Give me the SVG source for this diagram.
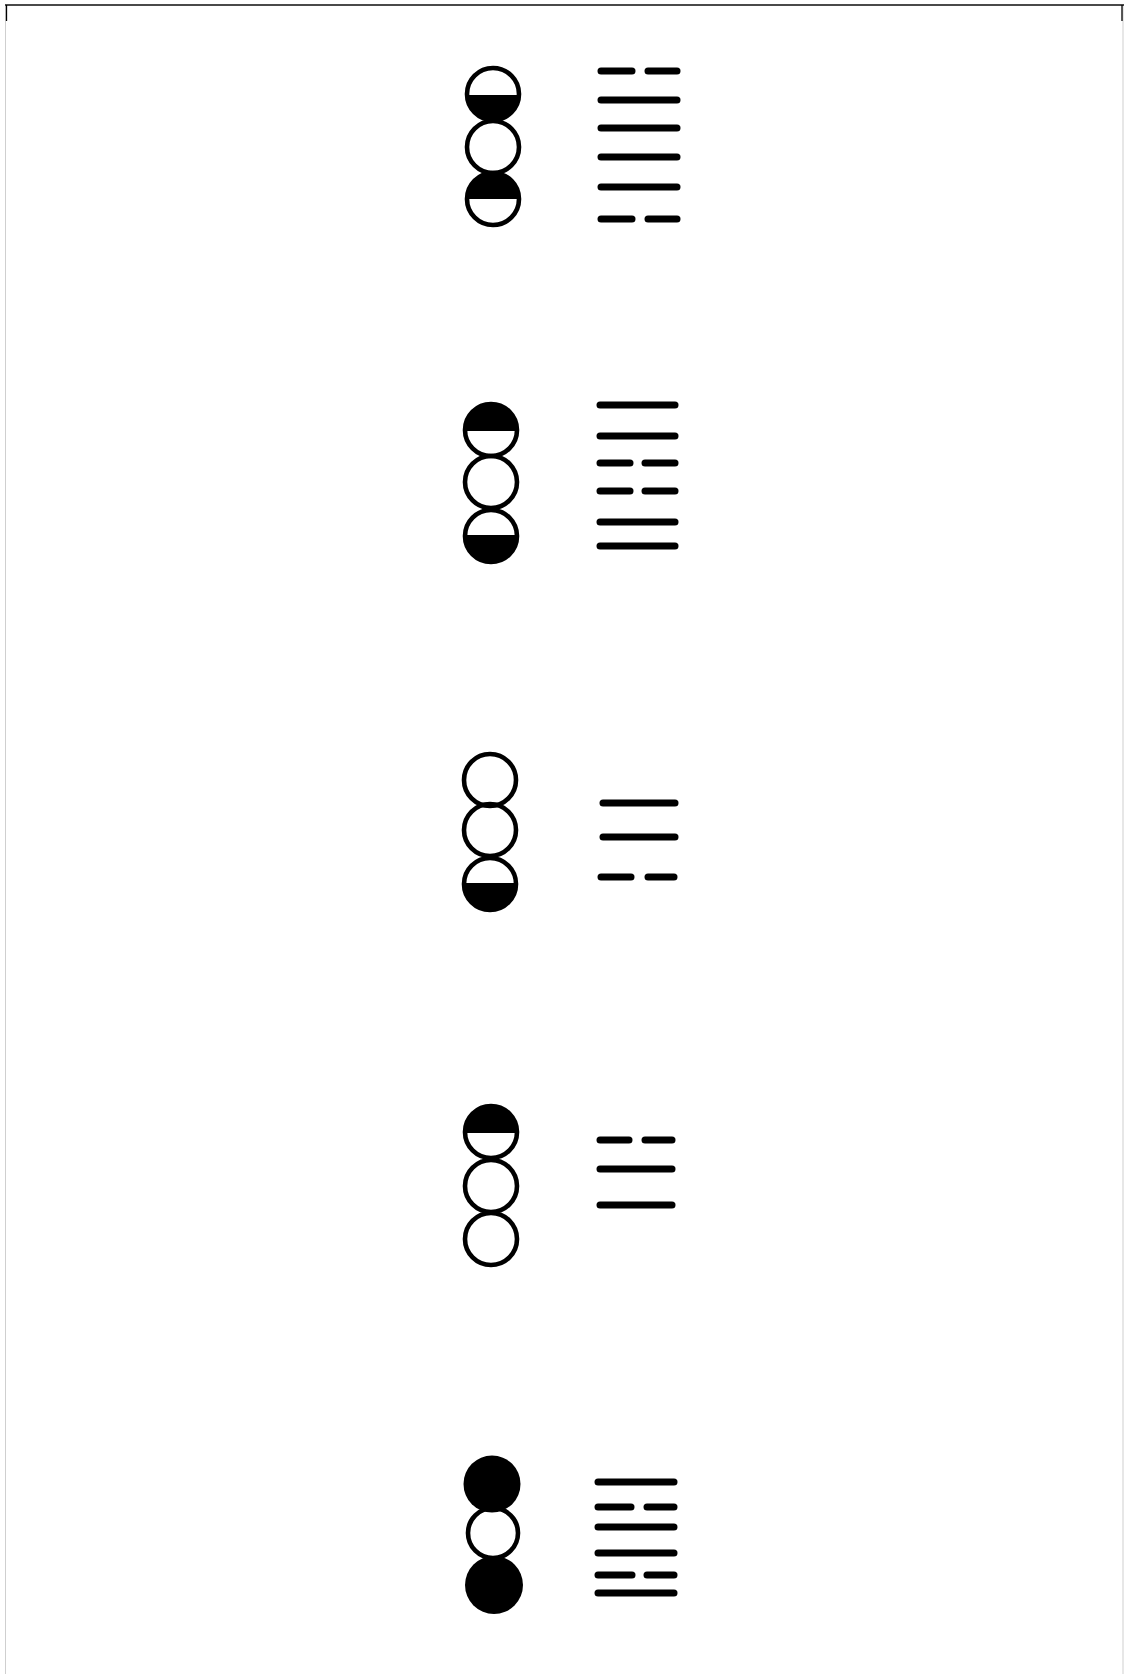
<svg xmlns="http://www.w3.org/2000/svg" width="1125" height="1674" viewBox="0 0 1125 1674">
<style>
.ring{fill:none;stroke:#000;stroke-width:4.6}
.half{fill:#000;stroke:none}
.yao{stroke:#000;stroke-width:7;stroke-linecap:round;fill:none}
</style>
<rect x="0" y="0" width="1125" height="1674" fill="#fff"/>
<g id="frame">
<line x1="5.5" y1="5" x2="5.5" y2="1674" stroke="#cfcfcf" stroke-width="1"/>
<line x1="1123" y1="5" x2="1123" y2="1674" stroke="#cfcfcf" stroke-width="1"/>
<line x1="5" y1="5" x2="1124" y2="5" stroke="#4a4a4a" stroke-width="1.8"/>
<line x1="6.5" y1="5" x2="6.5" y2="21" stroke="#000" stroke-width="1.3"/>
<line x1="1122" y1="5" x2="1122" y2="21" stroke="#000" stroke-width="1.3"/>
</g>
<g id="node1">
<path class="half" d="M467 95 A26 26 0 0 0 519 95 Z"/>
<path class="half" d="M467 199 A26 26 0 0 1 519 199 Z"/>
<circle class="ring" cx="493" cy="94" r="26"/>
<circle class="ring" cx="493" cy="147" r="26"/>
<circle class="ring" cx="493" cy="199" r="26"/>
<line class="yao" x1="601" y1="71" x2="632" y2="71"/><line class="yao" x1="648" y1="71" x2="677" y2="71"/>
<line class="yao" x1="601" y1="100" x2="677" y2="100"/>
<line class="yao" x1="601" y1="128" x2="677" y2="128"/>
<line class="yao" x1="601" y1="157" x2="677" y2="157"/>
<line class="yao" x1="601" y1="187" x2="677" y2="187"/>
<line class="yao" x1="601" y1="219" x2="632" y2="219"/><line class="yao" x1="648" y1="219" x2="677" y2="219"/>
</g>
<g id="node2">
<path class="half" d="M465 431 A26 26 0 0 1 517 431 Z"/>
<path class="half" d="M465 535 A26 26 0 0 0 517 535 Z"/>
<circle class="ring" cx="491" cy="430" r="26"/>
<circle class="ring" cx="491" cy="482" r="26"/>
<circle class="ring" cx="491" cy="536" r="26"/>
<line class="yao" x1="600" y1="405" x2="675" y2="405"/>
<line class="yao" x1="600" y1="436" x2="675" y2="436"/>
<line class="yao" x1="600" y1="463" x2="630" y2="463"/><line class="yao" x1="645" y1="463" x2="675" y2="463"/>
<line class="yao" x1="600" y1="491" x2="630" y2="491"/><line class="yao" x1="645" y1="491" x2="675" y2="491"/>
<line class="yao" x1="600" y1="522" x2="675" y2="522"/>
<line class="yao" x1="600" y1="546" x2="675" y2="546"/>
</g>
<g id="node3">
<path class="half" d="M464 883 A26 26 0 0 0 516 883 Z"/>
<circle class="ring" cx="490" cy="780" r="26"/>
<circle class="ring" cx="490" cy="830" r="26"/>
<circle class="ring" cx="490" cy="884" r="26"/>
<line class="yao" x1="603" y1="803" x2="675" y2="803"/>
<line class="yao" x1="603" y1="837" x2="675" y2="837"/>
<line class="yao" x1="601" y1="877" x2="631" y2="877"/><line class="yao" x1="648" y1="877" x2="674" y2="877"/>
</g>
<g id="node4">
<path class="half" d="M465 1133 A26 26 0 0 1 517 1133 Z"/>
<circle class="ring" cx="491" cy="1132" r="26"/>
<circle class="ring" cx="491" cy="1186" r="26"/>
<circle class="ring" cx="491" cy="1239" r="26"/>
<line class="yao" x1="600" y1="1140" x2="629" y2="1140"/><line class="yao" x1="645" y1="1140" x2="672" y2="1140"/>
<line class="yao" x1="600" y1="1169" x2="672" y2="1169"/>
<line class="yao" x1="600" y1="1205" x2="672" y2="1205"/>
</g>
<g id="node5">
<circle cx="492" cy="1484" r="28.5" fill="#000"/>
<circle class="ring" cx="493" cy="1533" r="25"/>
<circle cx="494" cy="1585" r="29" fill="#000"/>
<line class="yao" x1="598" y1="1482" x2="674" y2="1482"/>
<line class="yao" x1="598" y1="1507" x2="631" y2="1507"/><line class="yao" x1="647" y1="1507" x2="674" y2="1507"/>
<line class="yao" x1="598" y1="1527" x2="674" y2="1527"/>
<line class="yao" x1="598" y1="1553" x2="674" y2="1553"/>
<line class="yao" x1="598" y1="1575" x2="632" y2="1575"/><line class="yao" x1="647" y1="1575" x2="674" y2="1575"/>
<line class="yao" x1="598" y1="1593" x2="674" y2="1593"/>
</g>
<g id="connectors"/>
</svg>
